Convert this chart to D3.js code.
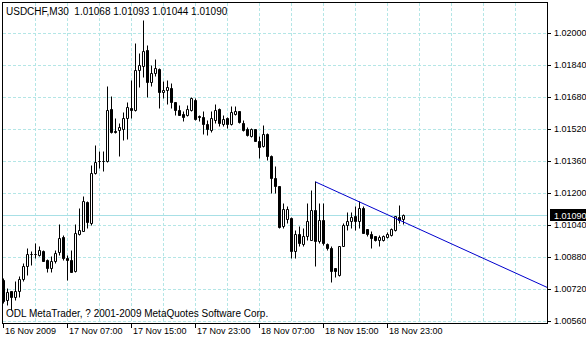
<!DOCTYPE html>
<html>
<head>
<meta charset="utf-8">
<script src="https://cdn.jsdelivr.net/npm/d3@7"></script>
<style>
  body { margin: 0; background: #fff; }
  svg { display: block; }
  text { font-family: "Liberation Sans", Arial, sans-serif; font-size: 9px; }
  text.caption { font-size: 10px; }
</style>
</head>
<body>
<svg id="chart" width="586" height="340"></svg>
<script>
// USDCHF M30 bars
const opens = [1.00767,1.00663,1.00708,1.00678,1.00708,1.00770,1.00833,1.00893,1.00895,1.00892,
  1.00912,1.00867,1.00825,1.00858,1.00905,1.00980,1.00875,1.00863,1.00808,1.00995,
  1.01012,1.01155,1.01050,1.01300,1.01358,1.01358,1.01358,1.01620,1.01512,1.01513,
  1.01520,1.01575,1.01625,1.01617,1.01813,1.01837,1.01917,1.01753,1.01802,1.01822,
  1.01703,1.01713,1.01727,1.01653,1.01613,1.01597,1.01592,1.01617,1.01667,1.01587,
  1.01580,1.01545,1.01517,1.01567,1.01622,1.01545,1.01575,1.01545,1.01597,1.01608,
  1.01550,1.01522,1.01483,1.01520,1.01462,1.01433,1.01495,1.01387,1.01277,1.01233,
  1.01033,1.01070,1.01075,1.00908,1.00997,1.00947,1.00983,1.00967,1.01117,1.00958,
  1.01067,1.00947,1.00925,1.00825,1.00792,1.00937,1.01042,1.01058,1.01083,1.01058,
  1.01125,1.01020,1.00995,1.00983,1.00963,1.00963,1.00978,1.00992,1.01017,1.01078,
  1.01068];
const highs = [1.00777,1.00725,1.00712,1.00758,1.00787,1.00850,1.00925,1.00908,1.00950,1.00937,
  1.00917,1.00870,1.00887,1.00917,1.01045,1.00992,1.00892,1.00917,1.01045,1.01125,
  1.01187,1.01162,1.01342,1.01442,1.01408,1.01412,1.01733,1.01683,1.01575,1.01550,
  1.01605,1.01655,1.01767,1.01952,1.01902,1.02067,1.01942,1.01842,1.01872,1.01825,
  1.01758,1.01767,1.01752,1.01655,1.01642,1.01608,1.01642,1.01682,1.01677,1.01592,
  1.01608,1.01567,1.01608,1.01647,1.01625,1.01592,1.01578,1.01637,1.01637,1.01612,
  1.01567,1.01528,1.01525,1.01522,1.01483,1.01542,1.01500,1.01390,1.01333,1.01235,
  1.01150,1.01133,1.01082,1.01017,1.01033,1.01025,1.01150,1.01217,1.01258,1.01150,
  1.01150,1.00950,1.00937,1.00827,1.00937,1.01050,1.01103,1.01103,1.01133,1.01158,
  1.01133,1.01020,1.01008,1.00983,1.00992,1.00992,1.01007,1.01027,1.01087,1.01142,
  1.01093];
const lows = [1.00652,1.00642,1.00617,1.00667,1.00678,1.00758,1.00792,1.00842,1.00875,1.00883,
  1.00858,1.00803,1.00803,1.00850,1.00892,1.00867,1.00763,1.00803,1.00803,1.00992,
  1.01008,1.01025,1.01038,1.01295,1.01325,1.01312,1.01355,1.01500,1.01500,1.01383,
  1.01467,1.01472,1.01575,1.01612,1.01732,1.01782,1.01682,1.01733,1.01787,1.01627,
  1.01677,1.01647,1.01627,1.01592,1.01590,1.01562,1.01583,1.01608,1.01567,1.01558,
  1.01497,1.01492,1.01505,1.01550,1.01533,1.01533,1.01525,1.01542,1.01592,1.01550,
  1.01508,1.01483,1.01480,1.01458,1.01375,1.01428,1.01363,1.01200,1.01200,1.01027,
  1.01025,1.01050,1.00875,1.00875,1.00933,1.00933,1.00967,1.00965,1.00833,1.00950,
  1.00942,1.00917,1.00753,1.00780,1.00787,1.00933,1.01017,1.01025,1.01017,1.01025,
  1.01000,1.00983,1.00925,1.00958,1.00937,1.00962,1.00975,1.00983,1.01012,1.01050,
  1.01044];
const closes = [1.00662,1.00705,1.00678,1.00712,1.00770,1.00837,1.00895,1.00895,1.00895,1.00915,
  1.00862,1.00825,1.00858,1.00900,1.00975,1.00875,1.00863,1.00805,1.01000,1.01017,
  1.01162,1.01055,1.01300,1.01355,1.01358,1.01360,1.01615,1.01505,1.01503,1.01530,
  1.01575,1.01630,1.01613,1.01817,1.01842,1.01912,1.01757,1.01802,1.01827,1.01703,
  1.01717,1.01732,1.01653,1.01613,1.01592,1.01578,1.01622,1.01677,1.01572,1.01580,
  1.01545,1.01520,1.01575,1.01617,1.01550,1.01572,1.01545,1.01603,1.01612,1.01553,
  1.01517,1.01488,1.01520,1.01462,1.01430,1.01495,1.01387,1.01275,1.01233,1.01032,
  1.01120,1.01120,1.00908,1.00997,1.00950,1.00987,1.01058,1.01117,1.00958,1.01067,
  1.00950,1.00925,1.00808,1.00808,1.00937,1.01042,1.01058,1.01080,1.01058,1.01125,
  1.01000,1.00995,1.00975,1.00963,1.00978,1.00987,1.00995,1.01020,1.01083,1.01067,
  1.01090];

const yTicks = [1.00560,1.00720,1.00880,1.01040,1.01200,1.01360,1.01520,1.01680,1.01840,1.02000];
const xTickBars = [0,16,32,48,64,80,96];
const xTickLabels = ["16 Nov 2009","17 Nov 07:00","17 Nov 15:00","17 Nov 23:00","18 Nov 07:00","18 Nov 15:00","18 Nov 23:00"];

// trend line drawn through two bar highs, extended to the right edge
const trendBars = [78, 89];
const trendPrices = [1.01258, 1.01158];

const symbol = "USDCHF,M30";
const copyright = "ODL MetaTrader, ? 2001-2009 MetaQuotes Software Corp.";

const svg = d3.select("#chart");
const lastBar = 136;
const x = d3.scaleLinear().domain([0, lastBar]).range([3, 547]);
const y = d3.scaleLinear().domain([1.00560, 1.02000]).range([321, 33]);
const fmt = d3.format(".5f");
const gridColor = "#b4e6e6";

// grid
const grid = svg.append("g");
grid.selectAll(".hgrid").data(yTicks).enter().append("line")
  .attr("x1", 3).attr("x2", 547)
  .attr("y1", d => y(d) + 0.5).attr("y2", d => y(d) + 0.5)
  .attr("stroke", gridColor).attr("stroke-dasharray", "3,2");
grid.selectAll(".vgrid").data(d3.range(8, lastBar, 8)).enter().append("line")
  .attr("x1", d => x(d) + 0.5).attr("x2", d => x(d) + 0.5)
  .attr("y1", 3).attr("y2", 323)
  .attr("stroke", gridColor).attr("stroke-dasharray", "3,2");

// bid line
const bid = closes[closes.length - 1];
svg.append("line")
  .attr("x1", 3).attr("x2", 547)
  .attr("y1", Math.round(y(bid)) + 0.5).attr("y2", Math.round(y(bid)) + 0.5)
  .attr("stroke", "#a8e0e6");

// candles
const bars = opens.map((o, i) => ({ i, o, h: highs[i], l: lows[i], c: closes[i] }));
const candles = svg.append("g");
candles.selectAll(".wick").data(bars).enter().append("line")
  .attr("x1", d => x(d.i) + 0.5).attr("x2", d => x(d.i) + 0.5)
  .attr("y1", d => Math.round(y(d.h)) + 0.5).attr("y2", d => Math.round(y(d.l)) + 0.5)
  .attr("stroke", "#000");
candles.selectAll(".body").data(bars).enter().append("path")
  .attr("d", d => {
    const t = Math.round(y(Math.max(d.o, d.c))) + 0.5;
    const b = Math.round(y(Math.min(d.o, d.c))) + 0.5;
    const x0 = x(d.i) - 0.5, x1 = x(d.i) + 1.5;
    return `M${x0},${t}H${x1}V${b}H${x0}Z`;
  })
  .attr("fill", d => d.c >= d.o ? "#fff" : "#000")
  .attr("stroke", "#000");

// trend line
const slope = (trendPrices[1] - trendPrices[0]) / (trendBars[1] - trendBars[0]);
svg.append("line")
  .attr("x1", x(trendBars[0]) + 0.5).attr("y1", y(trendPrices[0]) + 0.5)
  .attr("x2", x(lastBar)).attr("y2", y(trendPrices[0] + slope * (lastBar - trendBars[0])) + 0.5)
  .attr("stroke", "#0000cd");

// frame
svg.append("rect")
  .attr("x", 2.5).attr("y", 2.5).attr("width", 545).attr("height", 321)
  .attr("fill", "none").attr("stroke", "#000");

// price axis
svg.append("g")
  .attr("transform", "translate(547,0)")
  .call(d3.axisRight(y).tickValues(yTicks).tickFormat(fmt).tickSize(4).tickPadding(3))
  .call(g => g.select(".domain").remove())
  .call(g => g.attr("font-family", null).attr("font-size", null));

// bid label
const by = Math.round(y(bid));
svg.append("rect").attr("x", 550).attr("y", by - 6).attr("width", 36).attr("height", 12).attr("fill", "#000");
svg.append("text").attr("x", 554).attr("y", by + 3.5).attr("fill", "#fff").text(fmt(bid));

// time axis
svg.append("g")
  .attr("transform", "translate(0,323)")
  .call(d3.axisBottom(x).tickValues(xTickBars).tickFormat((d, i) => xTickLabels[i]).tickSize(5).tickPadding(0))
  .call(g => g.select(".domain").remove())
  .call(g => g.attr("font-family", null).attr("font-size", null))
  .call(g => g.selectAll("text").attr("text-anchor", "start").attr("x", 1.5));

// header and footer
const last = bars[bars.length - 1];
svg.append("text").attr("class", "caption").attr("x", 6).attr("y", 15).style("white-space", "pre")
  .text(`${symbol}  ${fmt(last.o)} ${fmt(last.h)} ${fmt(last.l)} ${fmt(last.c)}`);
svg.append("text").attr("class", "caption").attr("x", 6).attr("y", 317).text(copyright);
</script>
</body>
</html>
